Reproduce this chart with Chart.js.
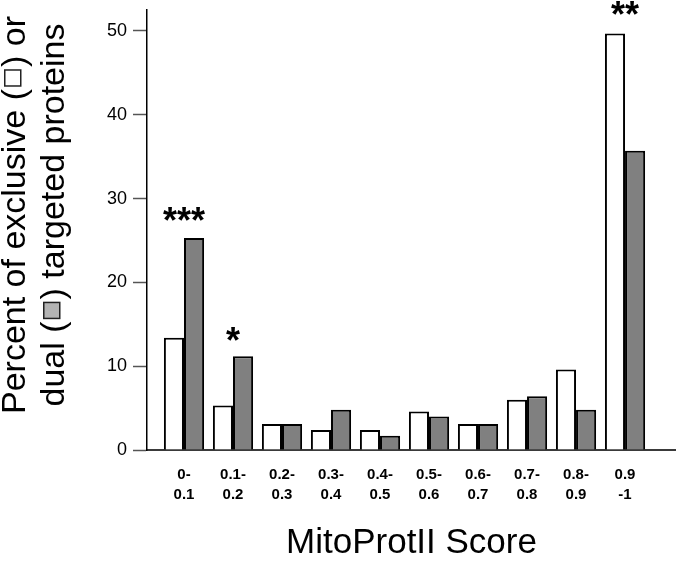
<!DOCTYPE html>
<html>
<head>
<meta charset="utf-8">
<script src="https://cdn.jsdelivr.net/npm/chart.js@4.4.0/dist/chart.umd.min.js"></script>
<style>
  html, body { margin: 0; padding: 0; background: #fff; }
  #wrap { width: 676px; height: 561px; }
</style>
</head>
<body>
<div id="wrap"><canvas id="chart" width="676" height="561"></canvas></div>
<script>
// Datos
const scoreBins = [
    ['0-', '0.1'], ['0.1-', '0.2'], ['0.2-', '0.3'], ['0.3-', '0.4'], ['0.4-', '0.5'],
    ['0.5-', '0.6'], ['0.6-', '0.7'], ['0.7-', '0.8'], ['0.8-', '0.9'], ['0.9', '-1']
];
const exclusiveValues = [13.4, 5.3, 3.1, 2.4, 2.4, 4.6, 3.1, 6.0, 9.6, 49.7];
const dualValues = [25.3, 11.2, 3.1, 4.8, 1.7, 4.0, 3.1, 6.4, 4.8, 35.7];
const yTicks = [0, 10, 20, 30, 40, 50];
const significance = [
    { bin: 0, value: 28.4, text: '***' },
    { bin: 1, value: 14.0, text: '*' },
    { bin: 9, value: 52.9, text: '**' }
];

const FONT = "'Liberation Sans', Arial, sans-serif";

// Título del eje Y con los cuadritos de la leyenda
const yTitlePlugin = {
    id: 'yTitle',
    afterDraw(chart) {
        const ctx = chart.ctx;
        const size = 34;
        const lines = [
            { x: 25, before: 'Percent of exclusive (', after: ') or', fill: '#ffffff' },
            { x: 64, before: 'dual (', after: ') targeted proteins', fill: '#b4b4b4' }
        ];
        ctx.save();
        ctx.font = size + 'px ' + FONT;
        ctx.fillStyle = '#000';
        ctx.textBaseline = 'alphabetic';
        ctx.textAlign = 'left';
        lines.forEach(line => {
            const w1 = ctx.measureText(line.before).width;
            const w2 = ctx.measureText(line.after).width;
            const slot = 22, box = 16;
            const total = w1 + slot + w2;
            ctx.save();
            ctx.translate(line.x, 215);
            ctx.rotate(-Math.PI / 2);
            let x = -total / 2;
            ctx.fillText(line.before, x, 0);
            x += w1;
            const by = -0.36 * size - box / 2;
            ctx.fillStyle = line.fill;
            ctx.fillRect(x + (slot - box) / 2, by, box, box);
            ctx.strokeStyle = '#222';
            ctx.lineWidth = 1.5;
            ctx.strokeRect(x + (slot - box) / 2, by, box, box);
            ctx.fillStyle = '#000';
            x += slot;
            ctx.fillText(line.after, x, 0);
            ctx.restore();
        });
        ctx.restore();
    }
};

// Asteriscos de significancia
const starsPlugin = {
    id: 'stars',
    afterDraw(chart) {
        const ctx = chart.ctx;
        const xs = chart.scales.x, ys = chart.scales.y;
        const size = 36;
        ctx.save();
        ctx.font = 'bold ' + size + 'px ' + FONT;
        ctx.fillStyle = '#000';
        ctx.textAlign = 'center';
        ctx.textBaseline = 'alphabetic';
        significance.forEach(s => {
            const px = xs.getPixelForValue(s.bin);
            const py = ys.getPixelForValue(s.value) + 0.57 * size;
            ctx.fillText(s.text, px, py);
        });
        ctx.restore();
    }
};

const ctx = document.getElementById('chart').getContext('2d');
new Chart(ctx, {
    type: 'bar',
    data: {
        datasets: [{
            label: 'exclusive',
            data: exclusiveValues.map((v, i) => ({ x: i, y: v })),
            backgroundColor: '#ffffff',
            borderColor: '#000000',
            borderWidth: 2
        }, {
            label: 'dual',
            data: dualValues.map((v, i) => ({ x: i, y: v })),
            backgroundColor: '#808080',
            borderColor: '#000000',
            borderWidth: 2
        }]
    },
    options: {
        responsive: false,
        devicePixelRatio: 1,
        animation: false,
        categoryPercentage: 0.82,
        barPercentage: 1.0,
        layout: { padding: 0 },
        plugins: {
            legend: { display: false },
            tooltip: { enabled: false }
        },
        scales: {
            x: {
                type: 'linear',
                min: -0.755,
                max: 10.04,
                offset: false,
                grid: { display: false, drawTicks: false, offset: false },
                border: { display: true, color: '#3a3a3a', width: 2 },
                afterBuildTicks: scale => { scale.ticks = scoreBins.map((b, i) => ({ value: i })); },
                afterFit: scale => {
                    scale.height = 111;
                    scale.paddingLeft = 0;
                    scale.paddingRight = 0;
                },
                ticks: {
                    padding: 15,
                    color: '#000',
                    font: { family: FONT, size: 15, weight: 'bold', lineHeight: 1.33 },
                    maxRotation: 0,
                    autoSkip: false,
                    callback: value => scoreBins[value]
                },
                title: {
                    display: true,
                    text: 'MitoProtII Score',
                    color: '#000',
                    font: { family: FONT, size: 35, lineHeight: 1 },
                    padding: { top: 0, bottom: 0.5 }
                }
            },
            y: {
                min: 0,
                max: 52.5,
                grid: {
                    drawOnChartArea: false,
                    drawTicks: true,
                    tickLength: 14,
                    tickColor: '#555',
                    tickWidth: 1.5
                },
                border: { display: true, color: '#000', width: 1.5 },
                afterBuildTicks: scale => { scale.ticks = yTicks.map(v => ({ value: v })); },
                afterFit: scale => {
                    scale.width = 147;
                    scale.paddingTop = 10;
                    scale.paddingBottom = 0;
                },
                ticks: {
                    padding: 6,
                    color: '#000',
                    font: { family: FONT, size: 18 }
                }
            }
        }
    },
    plugins: [yTitlePlugin, starsPlugin]
});
</script>
</body>
</html>
